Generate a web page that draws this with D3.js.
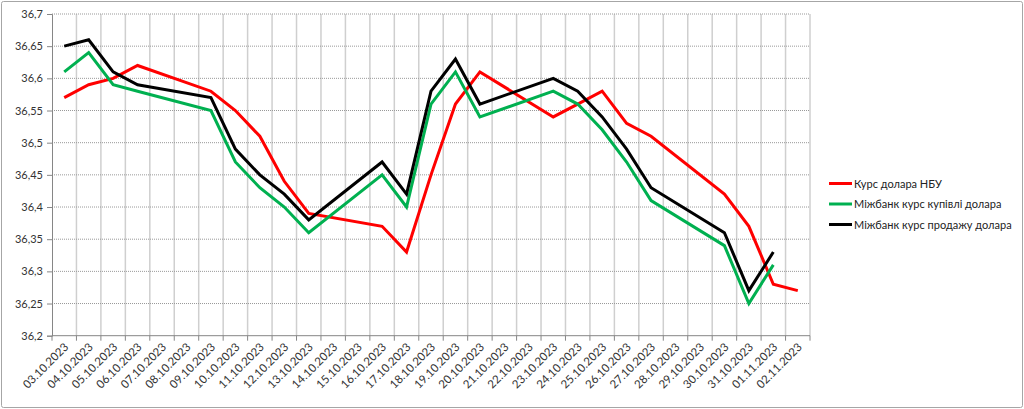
<!DOCTYPE html>
<html><head><meta charset="utf-8">
<script src="https://cdn.jsdelivr.net/npm/d3@7/dist/d3.min.js"></script>
<style>
html,body{margin:0;padding:0;background:#fff;}
svg{display:block;}
text{font-family:Lato,"Liberation Sans",sans-serif;}
</style></head><body>
<script>
const dates = ["03.10.2023","04.10.2023","05.10.2023","06.10.2023","07.10.2023","08.10.2023","09.10.2023","10.10.2023","11.10.2023","12.10.2023","13.10.2023","14.10.2023","15.10.2023","16.10.2023","17.10.2023","18.10.2023","19.10.2023","20.10.2023","21.10.2023","22.10.2023","23.10.2023","24.10.2023","25.10.2023","26.10.2023","27.10.2023","28.10.2023","29.10.2023","30.10.2023","31.10.2023","01.11.2023","02.11.2023"];
const nbu  = [36.57,36.59,36.60,36.62,null,null,36.58,36.55,36.51,36.44,36.39,null,null,36.37,36.33,36.45,36.56,36.61,null,null,36.54,36.56,36.58,36.53,36.51,null,null,36.42,36.37,36.28,36.27];
const buy  = [36.61,36.64,36.59,36.58,null,null,36.55,36.47,36.43,36.40,36.36,null,null,36.45,36.40,36.56,36.61,36.54,null,null,36.58,36.56,36.52,36.47,36.41,null,null,36.34,36.25,36.31,null];
const sell = [36.65,36.66,36.61,36.59,null,null,36.57,36.49,36.45,36.42,36.38,null,null,36.47,36.42,36.58,36.63,36.56,null,null,36.60,36.58,36.54,36.49,36.43,null,null,36.36,36.27,36.33,null];
const yTicks = [36.2,36.25,36.3,36.35,36.4,36.45,36.5,36.55,36.6,36.65,36.7];
const seriesNames = ["Курс долара НБУ","Міжбанк курс купівлі долара","Міжбанк курс продажу долара"];
const seriesColors = ["#ff0000","#00b050","#000000"];
const seriesData = [nbu, buy, sell];

const W = 1024, H = 409;
const L = 52, R = 810, T = 14, B = 335.7;
const svg = d3.select("body").append("svg").attr("width", W).attr("height", H);

svg.append("rect").attr("x",1.5).attr("y",1.5).attr("width",W-3).attr("height",H-3)
  .attr("fill","#fff").attr("stroke","#a6a6a6").attr("stroke-width",1).attr("rx",2);

const x = d3.scaleBand().domain(dates).range([L, R]).padding(0);
const y = d3.scaleLinear().domain([36.2, 36.7]).range([B, T]);

// vertical gridlines at category boundaries
const bounds = dates.map(d => x(d)).concat([R]);
svg.append("g").selectAll("line").data(bounds.slice(1)).join("line")
  .attr("x1", d => d).attr("x2", d => d).attr("y1", T).attr("y2", B)
  .attr("stroke", "#cfcfcf").attr("stroke-width", 1.5);

// horizontal dotted gridlines
svg.append("g").selectAll("line").data(yTicks.slice(1)).join("line")
  .attr("x1", L).attr("x2", R).attr("y1", d => y(d)).attr("y2", d => y(d))
  .attr("stroke", "#999").attr("stroke-width", 1).attr("stroke-dasharray", "1,1");

// y axis
const fmt = d => String(+d.toFixed(2)).replace(".", ",");
const yAxis = svg.append("g").attr("transform", `translate(${L},0)`)
  .call(d3.axisLeft(y).tickValues(yTicks).tickFormat(fmt).tickSize(5).tickPadding(4));
yAxis.select(".domain").attr("stroke", "#868686");
yAxis.selectAll(".tick line").attr("stroke", "#868686");
yAxis.selectAll("text").attr("font-size", 11).attr("fill", "#333");

// x axis
const xAxisG = svg.append("g").attr("transform", `translate(0,${B})`);
xAxisG.append("line").attr("x1", L).attr("x2", R).attr("stroke", "#868686");
xAxisG.selectAll("line.tk").data(bounds).join("line").attr("class","tk")
  .attr("x1", d => d).attr("x2", d => d).attr("y1", 0).attr("y2", 5).attr("stroke", "#868686");
xAxisG.selectAll("text").data(dates).join("text")
  .attr("transform", d => `translate(${x(d) + x.bandwidth()/2 + 5},${12}) rotate(-45)`)
  .attr("text-anchor", "end").attr("font-size", 11.5).attr("fill", "#333")
  .text(d => d);

// lines
const line = d3.line().defined(d => d.v !== null).x(d => x(d.k) + x.bandwidth()/2).y(d => y(d.v));
seriesData.forEach((arr, i) => {
  const pts = dates.map((k, j) => ({k, v: arr[j]})).filter(d => d.v !== null);
  svg.append("path").datum(pts).attr("d", line)
    .attr("fill", "none").attr("stroke", seriesColors[i]).attr("stroke-width", 3)
    .attr("stroke-linejoin", "miter");
});

// legend
const lg = svg.append("g");
seriesNames.forEach((n, i) => {
  const yy = 183.5 + i * 20.5;
  lg.append("line").attr("x1", 829).attr("x2", 852).attr("y1", yy).attr("y2", yy)
    .attr("stroke", seriesColors[i]).attr("stroke-width", 3);
  lg.append("text").attr("x", 854).attr("y", yy + 4).attr("font-size", 11).attr("fill", "#222").text(n);
});
</script>
</body></html>
